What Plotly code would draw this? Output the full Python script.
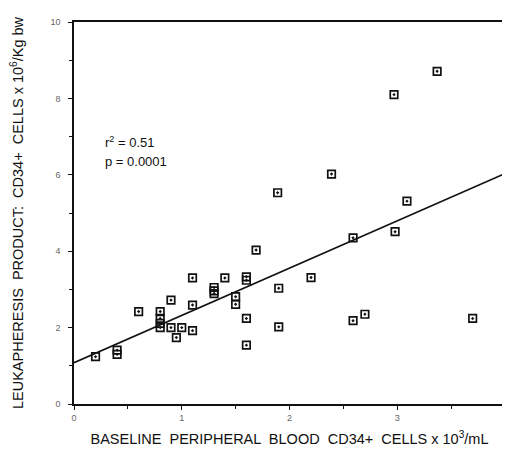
import plotly.graph_objects as go

# Baseline peripheral blood CD34+ cells (x10^3/mL)
baseline_x = [0.20, 0.40, 0.40, 0.60, 0.80, 0.80, 0.80, 0.80, 0.90, 0.90, 0.95, 1.00,
              1.10, 1.10, 1.10, 1.30, 1.30, 1.30, 1.40, 1.50, 1.50, 1.60, 1.60, 1.60,
              1.60, 1.69, 1.89, 1.90, 1.90, 2.20, 2.39, 2.59, 2.59, 2.70, 2.97, 2.98,
              3.09, 3.37, 3.70]
# Leukapheresis product CD34+ cells (x10^6/Kg bw)
product_y = [1.24, 1.41, 1.30, 2.42, 2.42, 2.24, 2.11, 2.00, 2.72, 2.00, 1.74, 2.00,
             3.30, 2.59, 1.92, 3.05, 2.96, 2.89, 3.30, 2.81, 2.61, 3.33, 3.24, 2.24,
             1.54, 4.03, 5.53, 3.03, 2.02, 3.31, 6.02, 4.35, 2.18, 2.35, 8.10, 4.51,
             5.31, 8.71, 2.24]

# Regression line end points
fit_x = [0.0, 4.0]
fit_y = [1.08, 6.03]

x_ticks = [0, 1, 2, 3, 4]
y_ticks = [0, 2, 4, 6, 8, 10]
stats_text = ["r<sup>2</sup> = 0.51", "p = 0.0001"]

FONT = "Liberation Sans, Arial"

fig = go.Figure()
fig.add_trace(go.Scatter(x=fit_x, y=fit_y, mode="lines",
                         line=dict(color="#111", width=1.6), hoverinfo="skip"))
fig.add_trace(go.Scatter(x=baseline_x, y=product_y, mode="markers",
                         marker=dict(symbol="square-open-dot", size=7.5, color="#111",
                                     line=dict(width=1.7, color="#111"))))

fig.add_annotation(x=0.27, y=6.87, xref="x", yref="y", text=stats_text[0],
                   showarrow=False, xanchor="left", yanchor="middle",
                   font=dict(family=FONT, size=13, color="#111"))
fig.add_annotation(x=0.27, y=6.35, xref="x", yref="y", text=stats_text[1],
                   showarrow=False, xanchor="left", yanchor="middle",
                   font=dict(family=FONT, size=13, color="#111"))

axis_common = dict(showgrid=False, zeroline=False, showline=True, linecolor="#111",
                   linewidth=1.5, mirror=True, ticks="outside", ticklen=4,
                   automargin=False,
                   tickcolor="#111", tickfont=dict(family=FONT, size=9, color="#666"))
fig.update_xaxes(range=[0, 4], tickvals=x_ticks, ticktext=[str(v) for v in x_ticks],
                 minor=dict(dtick=0.5, ticks="outside", ticklen=3, tickcolor="#111"),
                 title=dict(text="BASELINE  PERIPHERAL  BLOOD  CD34+  CELLS x 10<sup>3</sup>/mL",
                            font=dict(family=FONT, size=14.5, color="#111"),
                            standoff=12),
                 **axis_common)
fig.update_yaxes(range=[0, 10], tickvals=y_ticks, ticktext=[str(v) for v in y_ticks],
                 minor=dict(dtick=1, ticks="outside", ticklen=3, tickcolor="#111"),
                 ticklabelstandoff=6,
                 title=dict(text="LEUKAPHERESIS  PRODUCT:  CD34+  CELLS x 10<sup>6</sup>/Kg bw",
                            font=dict(family=FONT, size=14.5, color="#111"),
                            standoff=24),
                 **axis_common)

fig.update_layout(width=510, height=450, showlegend=False,
                  margin=dict(l=66, r=13, t=14, b=54),
                  plot_bgcolor="white", paper_bgcolor="white")
fig.write_html("out.html")
